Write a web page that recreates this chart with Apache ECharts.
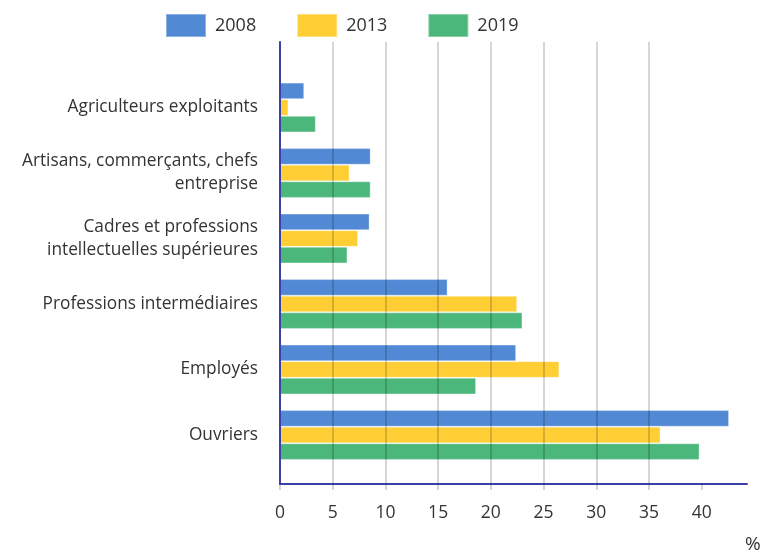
<!DOCTYPE html>
<html>
<head>
<meta charset="utf-8">
<script src="https://cdn.jsdelivr.net/npm/echarts@6/dist/echarts.min.js"></script>
<style>html,body{margin:0;padding:0;background:#fff;}#c{width:761px;height:557px;}</style>
</head>
<body>
<div id="c"></div>
<script>
const categories = ['Agriculteurs exploitants', 'Artisans, commerçants, chefs\nentreprise', 'Cadres et professions\nintellectuelles supérieures', 'Professions intermédiaires', 'Employés', 'Ouvriers'];
const seriesNames = ['2008', '2013', '2019'];
const s2008 = [2.3, 8.6, 8.5, 15.9, 22.4, 42.6];
const s2013 = [0.8, 6.6, 7.4, 22.5, 26.5, 36.1];
const s2019 = [3.4, 8.6, 6.4, 23.0, 18.6, 39.8];
const xTicks = [0, 5, 10, 15, 20, 25, 30, 35, 40];
const axisMin = 0;
const axisMax = 44.3;
const unitLabel = '%';

const colors = ['#5189D5', '#FFCE34', '#4BB77A'];
const axisBlue = '#3B3FA8';
const font = 'Open Sans';

const chart = echarts.init(document.getElementById('c'), null, {renderer: 'canvas'});
const mkSeries = (name, data, i) => ({
  name: name, type: 'bar', xAxisIndex: 0, yAxisIndex: 0,
  data: data, barWidth: 16.6, barGap: '0%',
  itemStyle: {color: colors[i], borderColor: 'rgba(255,255,255,0.35)', borderWidth: 1},
  z: 2
});
chart.setOption({
  animation: false,
  textStyle: {fontFamily: font},
  color: colors,
  legend: {
    data: seriesNames, left: 165, top: 13, padding: 0, itemWidth: 40, itemHeight: 23, itemGap: 40,
    icon: 'rect',
    textStyle: {fontFamily: font, fontSize: 18, color: '#333', padding: [0, 0, 0, 4]}
  },
  grid: [
    {left: 280, right: 14, top: 74.75, height: 393},
    {left: 280, right: 14, top: 42, bottom: 73}
  ],
  xAxis: [
    {gridIndex: 0, type: 'value', min: axisMin, max: axisMax, show: false},
    {gridIndex: 1, type: 'value', min: axisMin, max: axisMax, interval: 5, z: 5,
      axisLine: {show: true, lineStyle: {color: axisBlue, width: 2}},
      axisTick: {show: true, length: 6, customValues: xTicks, lineStyle: {color: 'rgba(0,0,0,0.22)', width: 1.5}},
      axisLabel: {customValues: xTicks, fontFamily: font, fontSize: 17.5, color: '#333', margin: 20},
      splitLine: {show: true, showMinLine: false, showMaxLine: false, lineStyle: {color: 'rgba(0,0,0,0.22)', width: 1.5}}
    }
  ],
  yAxis: [
    {gridIndex: 0, type: 'category', data: categories, inverse: true,
      axisLine: {show: false}, axisTick: {show: false},
      axisLabel: {fontFamily: font, fontSize: 17.3, color: '#333', margin: 22, lineHeight: 23, align: 'right'}
    },
    {gridIndex: 1, type: 'category', data: categories, inverse: true, z: 6,
      axisLine: {show: true, lineStyle: {color: axisBlue, width: 2}},
      axisTick: {show: false}, axisLabel: {show: false}, splitLine: {show: false}
    }
  ],
  graphic: [
    {type: 'text', left: 745, top: 535, style: {text: unitLabel, font: '19px "Open Sans"', fill: '#333'}}
  ],
  series: [mkSeries(seriesNames[0], s2008, 0), mkSeries(seriesNames[1], s2013, 1), mkSeries(seriesNames[2], s2019, 2)]
});
</script>
</body>
</html>
